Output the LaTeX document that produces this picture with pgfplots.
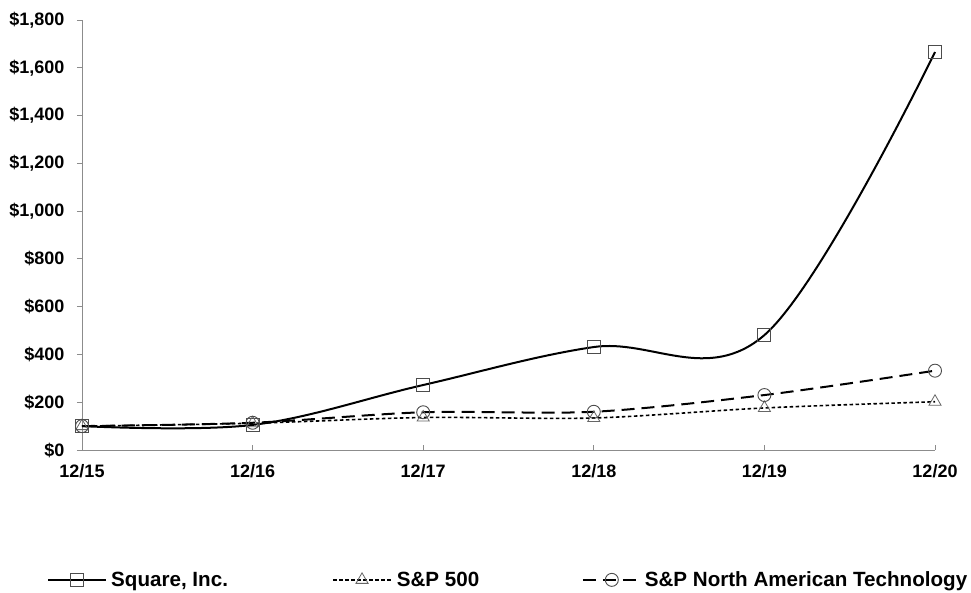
\documentclass[border=0pt]{standalone}
\usepackage{pgfplots}
\pgfplotsset{compat=1.18}
\usepackage{fontspec}
\setmainfont{Liberation Sans}

\pgfplotstableread{
x  sq    sp    tech
0  100   100   100
1  105   112   114
2  272   136   158
3  431   134   160
4  481   176   230
5  1666  202   332
}\returns

\begin{document}
\begin{tikzpicture}
\begin{axis}[
  scale only axis,
  width=853pt, height=430pt,
  at={(0,0)}, anchor=south west,
  xmin=0, xmax=5, ymin=0, ymax=1800,
  axis x line=bottom, axis y line=left,
  axis line style={-, draw=black!45, line width=0.8pt},
  xtick={0,...,5},
  xticklabels={12/15,12/16,12/17,12/18,12/19,12/20},
  ytick={0,200,...,1800},
  yticklabels={\$0,\$200,\$400,\$600,\$800,{\$1,000},{\$1,200},{\$1,400},{\$1,600},{\$1,800}},
  tick align=outside,
  major tick length=5pt,
  tick style={draw=black!45, line width=0.8pt},
  x tick style={yshift=5pt},
  ticklabel style={font=\fontsize{18}{21}\selectfont\bfseries},
  yticklabel style={xshift=-9pt},
  xticklabel style={yshift=-6pt},
  clip=false,
  legend columns=3,
  legend style={at={(-0.041,-0.302)}, anchor=west, draw=none, inner sep=0pt,
    font=\fontsize{20.6}{23}\selectfont\bfseries, nodes={inner sep=0pt},
    column sep=0pt},
  legend image code/.code={
    \draw[mark repeat=2,mark phase=2,#1] plot coordinates {(0pt,0pt) (29pt,0pt) (58pt,0pt)};},
]
\addplot[black, line width=2pt, smooth, tension=0.6, mark=square,
  mark size=6.5pt, mark options={solid, draw=black!70, line width=0.9pt, fill=none}]
  table[x=x, y=sq] {\returns};
\addlegendentry{\hspace{4pt}\makebox[221pt][l]{Square, Inc.}}
\addplot[black, line width=1.6pt, smooth, dash pattern=on 3.5pt off 2.5pt, mark=triangle,
  mark size=7pt, mark options={solid, draw=black!60, line width=0.8pt, fill=none}]
  table[x=x, y=sp] {\returns};
\addlegendentry{\hspace{5pt}\makebox[185pt][l]{S\&P 500}}
\addplot[black, line width=2pt, smooth, dash pattern=on 13pt off 7pt, mark=o,
  mark size=6.5pt, mark options={solid, draw=black!70, line width=0.9pt, fill=none}]
  table[x=x, y=tech] {\returns};
\addlegendentry{\hspace{3pt}S\&P North American Technology}
\end{axis}
\pgfresetboundingbox
\path (-82pt,-143pt) rectangle (889pt,450pt);
\end{tikzpicture}
\end{document}
